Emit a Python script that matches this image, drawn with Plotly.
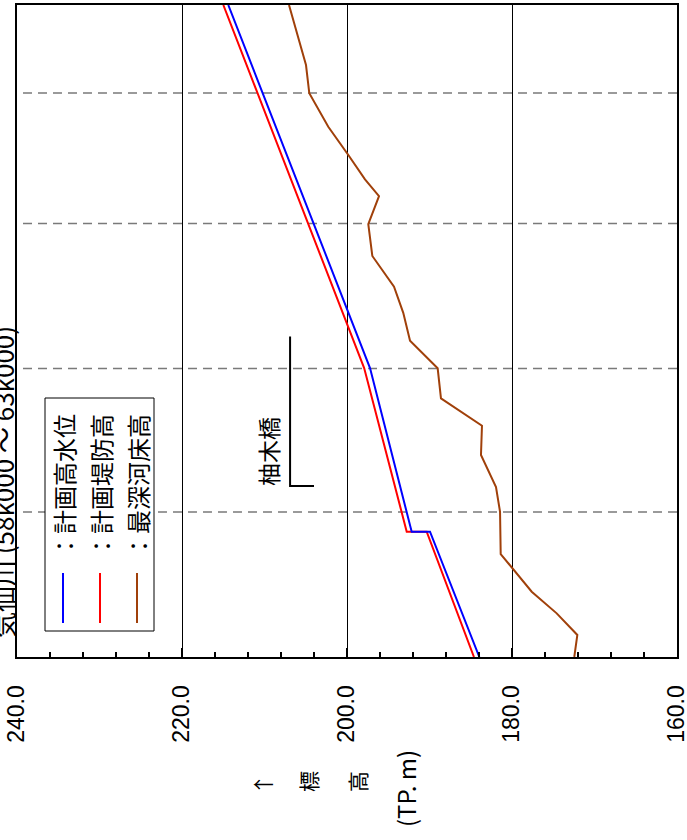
import plotly.graph_objects as go

# ---------------- data ----------------
# distance along river (km), elevation (TP. m)
dist_hwl = [58.0, 58.864, 58.864, 59.993, 62.497]
hwl = [183.96, 189.94, 192.16, 197.21, 214.39]          # 計画高水位

dist_levee = [58.0, 58.864, 58.864, 59.993, 62.497]
levee = [184.61, 190.34, 192.76, 197.92, 214.99]        # 計画堤防高

dist_bed = [58.0, 58.152, 58.301, 58.450, 58.710, 59.002, 59.172, 59.393,
            59.595, 59.784, 59.991, 60.181, 60.374, 60.554, 60.766, 60.986,
            61.179, 61.294, 61.462, 61.657, 61.888, 62.083, 62.497]
bed = [172.45, 172.08, 174.58, 177.61, 181.37, 181.45, 181.94, 183.76,
       183.64, 188.61, 189.01, 192.36, 193.18, 194.30, 196.93, 197.42,
       196.12, 197.82, 199.84, 202.27, 204.57, 204.97, 207.03]  # 最深河床高

series_names = ["計画高水位", "計画堤防高", "最深河床高"]
series_colors = ["#0000FF", "#FF0000", "#A0400A"]

elev_ticks = [240.0, 220.0, 200.0, 180.0, 160.0]
dist_grid = [59.0, 59.99, 60.99, 61.89]

bridge_name = "柚木橋"
bridge_elev = 206.9
bridge_foot_elev = 204.0
bridge_dist_foot = 59.18
bridge_dist_top = 60.21

title_text = "気仙川 (58k000 ～ 63k000)"
dist_range = [58.0, 62.497]
elev_range = [240.0, 160.0]

# ---------------- layout helpers ----------------
W, H = 687, 840
L, R, T, B = 17, 677, 5, 657


def pxx(px):
    return (px - L) / (R - L)


def pxy(py):
    return (B - py) / (B - T)


JP = "Noto Sans CJK JP"
LAT = "Liberation Sans"

fig = go.Figure()

fig.add_trace(go.Scatter(x=levee, y=dist_levee, mode="lines",
                         line=dict(color=series_colors[1], width=2),
                         name=series_names[1], showlegend=False))
fig.add_trace(go.Scatter(x=hwl, y=dist_hwl, mode="lines",
                         line=dict(color=series_colors[0], width=2),
                         name=series_names[0], showlegend=False))
fig.add_trace(go.Scatter(x=bed, y=dist_bed, mode="lines",
                         line=dict(color=series_colors[2], width=2),
                         name=series_names[2], showlegend=False))

# bridge marker
fig.add_trace(go.Scatter(x=[bridge_elev, bridge_elev, bridge_foot_elev],
                         y=[bridge_dist_top, bridge_dist_foot, bridge_dist_foot],
                         mode="lines", line=dict(color="black", width=2),
                         showlegend=False, hoverinfo="skip"))

shapes = []
annotations = []

# dashed distance gridlines (start slightly inside the left frame)
for d in dist_grid:
    shapes.append(dict(type="line", xref="paper", yref="y",
                       x0=pxx(23), x1=1, y0=d, y1=d,
                       line=dict(color="#7a7a7a", width=1.5, dash="9px,6px"),
                       layer="below"))

# legend box (drawn as shapes since text is rotated)
shapes.append(dict(type="rect", xref="paper", yref="paper",
                   x0=pxx(45), x1=pxx(154), y0=pxy(631), y1=pxy(398),
                   line=dict(color="black", width=1), fillcolor="white",
                   layer="above"))
leg_x = [63, 100, 137]
for i in range(3):
    shapes.append(dict(type="line", xref="paper", yref="paper",
                       x0=pxx(leg_x[i]), x1=pxx(leg_x[i]),
                       y0=pxy(623), y1=pxy(573),
                       line=dict(color=series_colors[i], width=2),
                       layer="above"))
    annotations.append(dict(xref="paper", yref="paper", x=pxx(leg_x[i]),
                            y=pxy(486), text="：" + series_names[i],
                            textangle=-90, showarrow=False,
                            xanchor="center", yanchor="middle",
                            font=dict(family=JP, size=24, color="black")))

# bridge label
annotations.append(dict(xref="paper", yref="paper", x=pxx(268), y=pxy(452),
                        text=bridge_name, textangle=-90, showarrow=False,
                        xanchor="center", yanchor="middle",
                        font=dict(family=JP, size=23, color="black")))

# title (partly off canvas, as in reference)
annotations.append(dict(xref="paper", yref="paper", x=pxx(2), y=pxy(482),
                        text=title_text, textangle=-90, showarrow=False,
                        xanchor="center", yanchor="middle",
                        font=dict(family=JP, size=26, color="black")))

# axis title pieces
for txt, px, py, fs in [("↑", 262, 785, 21), ("標", 308, 782, 21),
                        ("高", 357, 782, 21), ("(TP. m)", 405, 789, 24)]:
    annotations.append(dict(xref="paper", yref="paper", x=pxx(px), y=pxy(py),
                            text=txt, textangle=-90, showarrow=False,
                            xanchor="center", yanchor="middle",
                            font=dict(family=JP, size=fs, color="black")))

fig.update_layout(
    width=W, height=H,
    margin=dict(l=L, r=W - R, t=T, b=H - B, pad=0, autoexpand=False),
    paper_bgcolor="white", plot_bgcolor="white",
    showlegend=False,
    shapes=shapes, annotations=annotations,
    xaxis=dict(range=elev_range, tickvals=elev_ticks,
               ticktext=[f"{v:.1f}" for v in elev_ticks],
               tickangle=-90, ticks="inside", ticklen=9, tickwidth=1.5,
               tickcolor="black", ticklabelstandoff=17, automargin=False,
               ticklabeloverflow="allow",
               tickfont=dict(family=LAT, size=23, color="black"),
               showgrid=True, gridcolor="black", gridwidth=1,
               showline=True, linecolor="black", linewidth=2, mirror=True,
               zeroline=False,
               minor=dict(dtick=4, tick0=160, ticks="inside", ticklen=5,
                          tickwidth=1.5, tickcolor="black", showgrid=False)),
    yaxis=dict(range=dist_range, showticklabels=False,
               ticks="", showgrid=False, automargin=False,
               showline=True, linecolor="black", linewidth=2, mirror=True,
               zeroline=False),
)

fig.write_html(
    "out.html",
    config={"displayModeBar": False},
    post_script="document.body.style.margin='0px';"
                "document.body.style.overflow='hidden';",
)
